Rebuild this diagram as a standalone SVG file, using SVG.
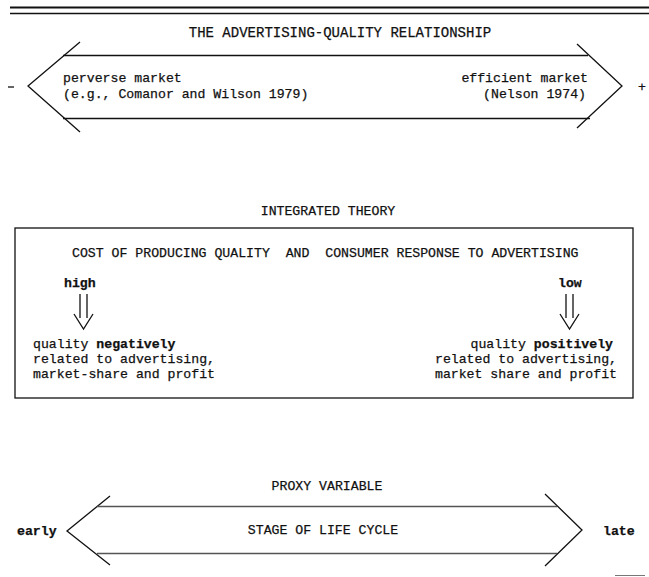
<svg xmlns="http://www.w3.org/2000/svg" width="649" height="577" viewBox="0 0 649 577">
<style>
text{font-family:"Liberation Mono","Courier New","DejaVu Sans Mono",monospace;font-size:13.2px;fill:#111;stroke:#111;stroke-width:0.25;white-space:pre}
.b{font-weight:bold}
.m{text-anchor:middle}
.e{text-anchor:end}
.t{font-size:14px}
.ln{stroke:#111;stroke-width:1.3;fill:none}
.gl{stroke:#555;stroke-width:1.3;fill:none}
</style>
<rect width="649" height="577" fill="#fff"/>
<g id="rule">
<line x1="10" y1="7.5" x2="649" y2="7.5" stroke="#111" stroke-width="2"/>
<line x1="10" y1="13.5" x2="649" y2="13.5" stroke="#111" stroke-width="1.5"/>
</g>
<g id="relationship">
<text class="m t" x="340" y="37">THE ADVERTISING-QUALITY RELATIONSHIP</text>
<polyline class="ln" points="80,42 28,86 80,132"/>
<polyline class="ln" points="577,44 622,86 577,128"/>
<line class="ln" x1="63" y1="55.5" x2="588" y2="55.5"/>
<line class="ln" x1="63" y1="118.5" x2="590" y2="118.5"/>
<line class="ln" x1="8" y1="87" x2="14" y2="87" stroke-width="1.6"/>
<text x="638" y="91">+</text>
<text x="63" y="82">perverse market</text>
<text x="63" y="98">(e.g., Comanor and Wilson 1979)</text>
<text class="e" x="588" y="82">efficient market</text>
<text class="e" x="586" y="98">(Nelson 1974)</text>
</g>
<g id="integrated">
<text class="m" x="328" y="215">INTEGRATED THEORY</text>
<rect class="ln" x="15" y="228" width="618" height="170"/>
<text x="72" y="257" xml:space="preserve">COST OF PRODUCING QUALITY  AND  CONSUMER RESPONSE TO ADVERTISING</text>
</g>
<g id="high">
<text class="b" x="64" y="287">high</text>
<line class="ln" x1="80" y1="294" x2="80" y2="318"/>
<line class="ln" x1="87" y1="294" x2="87" y2="318"/>
<polyline class="ln" points="74,314 83.5,329 93,314"/>
<text x="33" y="348">quality <tspan class="b">negatively</tspan></text>
<text x="33" y="363">related to advertising,</text>
<text x="33" y="378">market-share and profit</text>
</g>
<g id="low">
<text class="b" x="558" y="287">low</text>
<line class="ln" x1="566" y1="294" x2="566" y2="318" stroke-width="1"/>
<line class="ln" x1="573" y1="294" x2="573" y2="318" stroke-width="1"/>
<polyline class="ln" points="560,314 569.5,329 579,314"/>
<text class="e" x="613" y="348">quality <tspan class="b">positively</tspan></text>
<text class="e" x="617" y="363">related to advertising,</text>
<text class="e" x="617" y="378">market share and profit</text>
</g>
<g id="proxy">
<text class="m" x="327" y="490">PROXY VARIABLE</text>
<polyline class="ln" points="110,496 67,531 110,565"/>
<polyline class="ln" points="545,494 582,530 545,566"/>
<line class="gl" x1="97" y1="506.5" x2="557" y2="506.5"/>
<line class="gl" x1="97" y1="553.5" x2="557" y2="553.5"/>
<text class="m" x="323" y="534">STAGE OF LIFE CYCLE</text>
<text class="b" x="17" y="535">early</text>
<text class="b" x="603" y="535">late</text>
</g>
<line x1="615" y1="575.5" x2="645" y2="575.5" stroke="#777" stroke-width="1"/>
</svg>
